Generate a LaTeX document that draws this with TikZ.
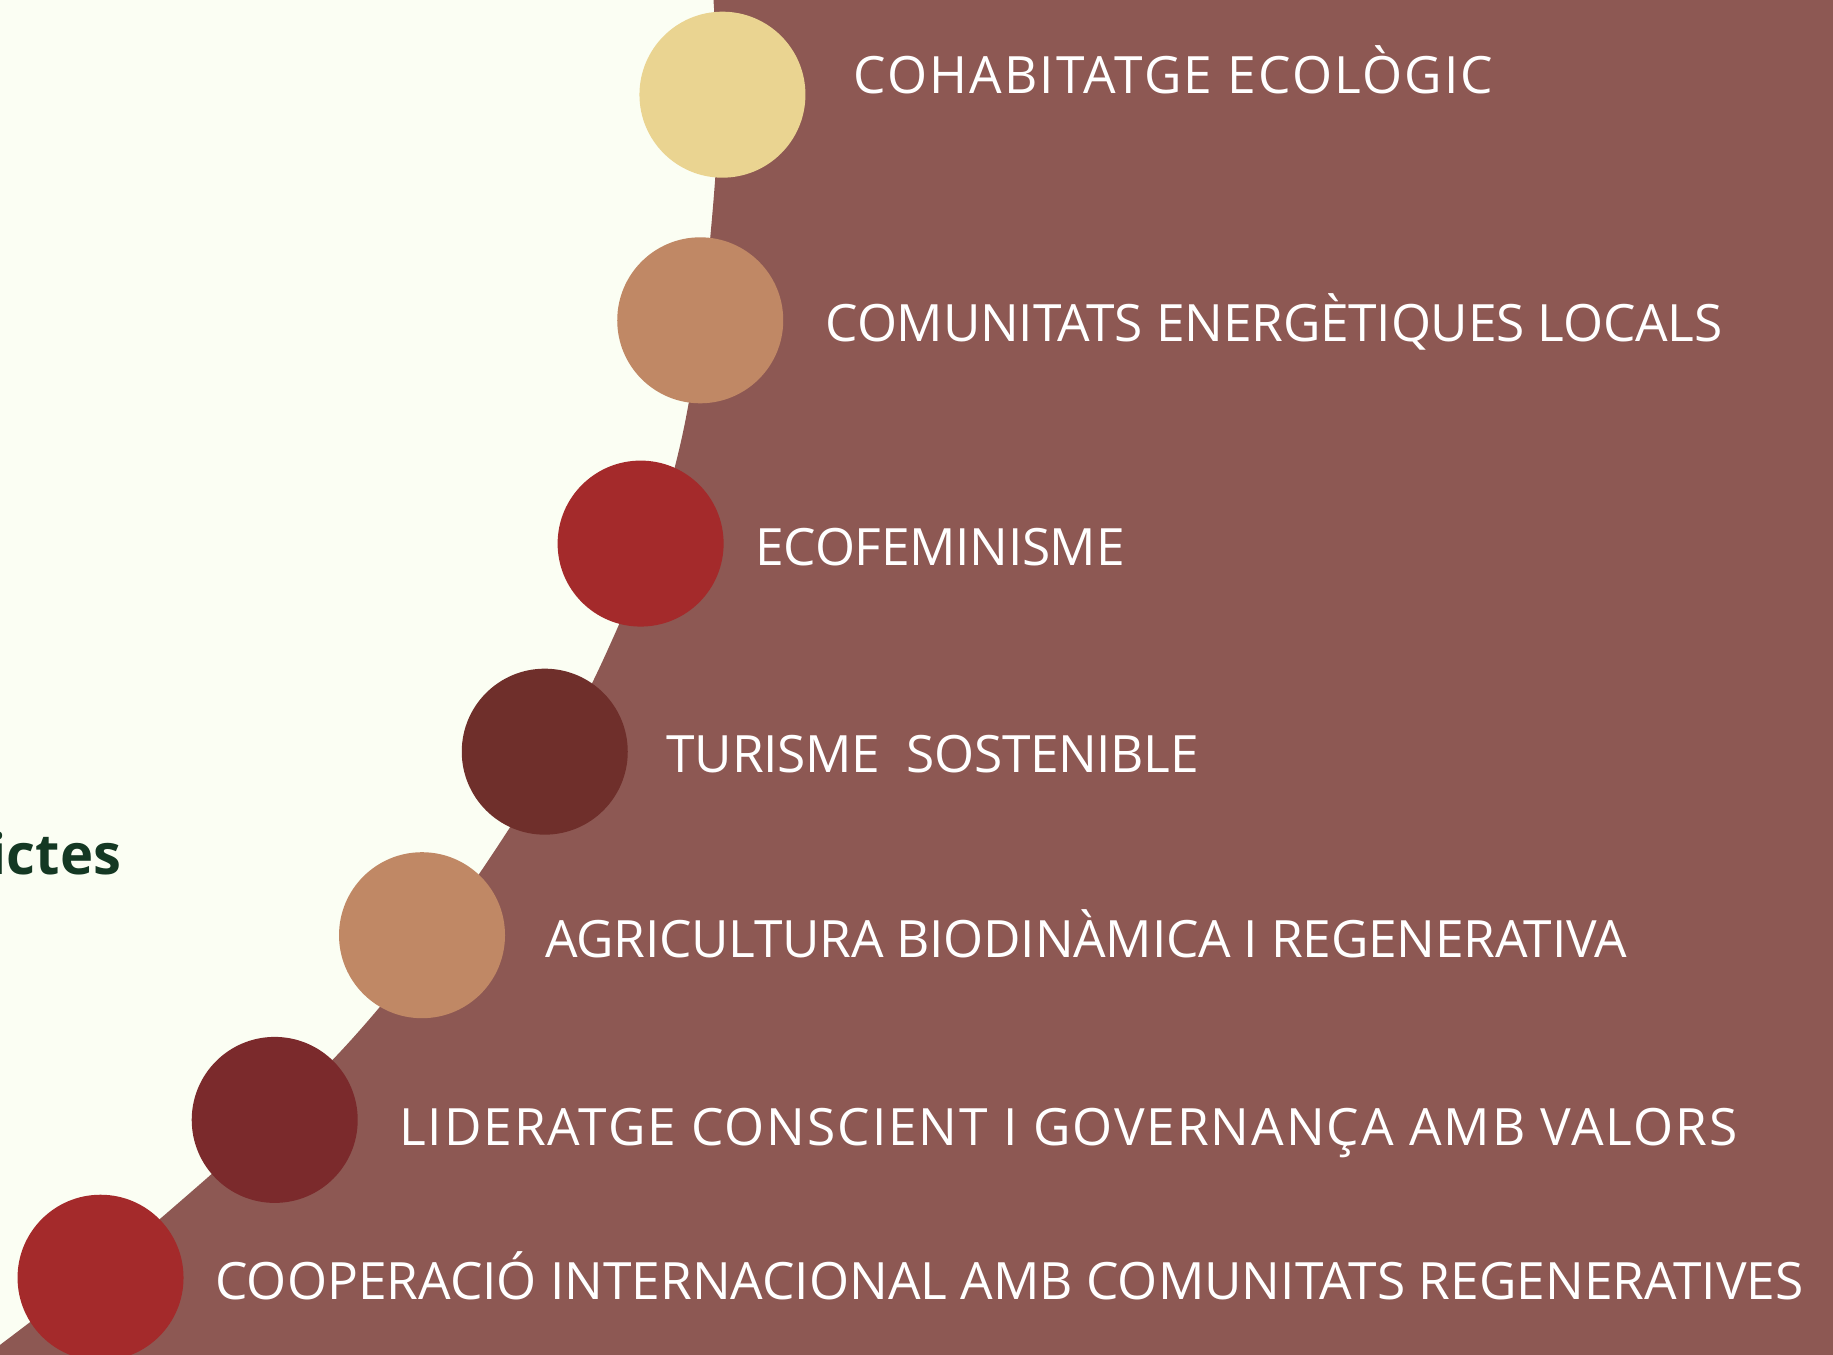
\documentclass[tikz,border=0pt]{standalone}
\usepackage{fontspec}
\setmainfont{Open Sans}
\definecolor{cream}{HTML}{FBFEF3}
\definecolor{bgbrown}{HTML}{8D5853}
\definecolor{cyellow}{HTML}{EAD491}
\definecolor{ctan}{HTML}{C08865}
\definecolor{cred}{HTML}{A42A2B}
\definecolor{cdark}{HTML}{6F2F2B}
\definecolor{cmaroon}{HTML}{7B2A2C}
\definecolor{dgreen}{HTML}{143823}
\tikzset{
  dot/.style={circle, minimum size=71pt, inner sep=0pt, draw=none},
  lbl/.style={anchor=base west, text=white, font=\fontsize{22}{26}\selectfont, inner sep=0pt},
}
\begin{document}
\begin{tikzpicture}[x=0.5pt,y=-0.5pt]
\useasboundingbox (0,0) rectangle (1568,1159);
\clip (0,0) rectangle (1568,1159);
\fill[cream] (0,0) rectangle (1568,1159);
\fill[bgbrown] plot[smooth, tension=0.6] coordinates {(610,-5) (612,150) (582,380) (518,560) (425,725) (300,890) (140,1040) (-10,1158)}
  -- (-10,1170) -- (1580,1170) -- (1580,-5) -- cycle;
\node[anchor=base east, text=dgreen, font=\fontsize{24}{28}\selectfont\bfseries, inner sep=0pt] (title) at (104,748) {ictes};
\node[dot, fill=cyellow] (c1) at (618,81) {};
\node[dot, fill=ctan] (c2) at (599,274) {};
\node[dot, fill=cred] (c3) at (548,465) {};
\node[dot, fill=cdark] (c4) at (466,643) {};
\node[dot, fill=ctan] (c5) at (361,800) {};
\node[dot, fill=cmaroon] (c6) at (235,958) {};
\node[dot, fill=cred] (c7) at (86,1093) {};
\node[lbl] (t1) at (730,80) {\addfontfeatures{LetterSpace=4.2}COHABITATGE ECOLÒGIC};
\node[lbl] (t2) at (706,292) {\addfontfeatures{LetterSpace=-0.4}COMUNITATS ENERGÈTIQUES LOCALS};
\node[lbl] (t3) at (646,484) {\addfontfeatures{LetterSpace=-0.6}ECOFEMINISME};
\node[lbl] (t4) at (570,661) {\addfontfeatures{LetterSpace=-0.6}TURISME\ \ SOSTENIBLE};
\node[lbl] (t5) at (466,819) {\addfontfeatures{LetterSpace=-0.5}AGRICULTURA BIODINÀMICA I REGENERATIVA};
\node[lbl] (t6) at (341,980) {\addfontfeatures{LetterSpace=3.8}LIDERATGE CONSCIENT I GOVERNANÇA AMB VALORS};
\node[lbl] (t7) at (184,1112) {COOPERACIÓ INTERNACIONAL AMB COMUNITATS REGENERATIVES};
\end{tikzpicture}
\end{document}
